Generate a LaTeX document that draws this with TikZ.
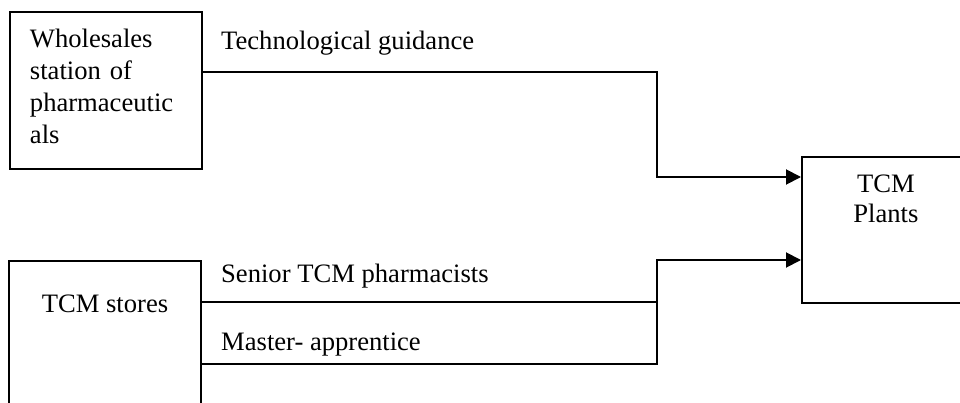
\documentclass[tikz,border=0pt]{standalone}
\usepackage{fontspec}
\setmainfont{Liberation Serif}
\usetikzlibrary{arrows.meta}
\tikzset{
  box/.style={draw, line width=1.9pt, inner sep=0pt},
  conn/.style={line width=1.9pt, line join=miter},
  arr/.style={conn, -{Triangle[length=15pt,width=15pt]}},
  lbl/.style={inner sep=0pt, anchor=base west}
}
\begin{document}
\begin{tikzpicture}[x=1pt,y=-1pt,font=\fontsize{26.6}{30}\selectfont]
\useasboundingbox (0,0) rectangle (960,403);
\clip (0,0) rectangle (960,403);
% boxes
\node (whole) [box, anchor=north west, inner xsep=20pt, text width=152pt, align=left,
  text height=36pt, text depth=121pt, font=\fontsize{26.6}{31.7}\selectfont] at (9,11)
  {Wholesales\\station of\\pharmaceutic\\als};
\node (stores) [box, anchor=north, minimum width=192pt, text height=52pt, text depth=148pt] at (105,260) {TCM stores};
\node (plants) [box, anchor=north west, text width=168pt, align=center,
  text height=36pt, text depth=110pt] at (801,156) {TCM\\Plants};
% bend points
\coordinate (k1) at (657,72);
\coordinate (k2) at (657,177);
\coordinate (k3) at (657,260);
\coordinate (k4) at (657,364);
\coordinate (k5) at (657,302);
% connectors
\draw[arr] (whole.east |- k1) -- (k1) -- (k2) -- (plants.west |- k2);
\draw[arr] (stores.east |- k4) -- (k4) -- (k3) -- (plants.west |- k3);
\draw[conn] (stores.east |- k5) -- (k5);
% labels
\node (l1) [lbl] at (221,50) {Technological guidance};
\node (l2) [lbl] at (221,282) {Senior TCM pharmacists};
\node (l3) [lbl] at (221,350) {Master- apprentice};
\end{tikzpicture}
\end{document}
